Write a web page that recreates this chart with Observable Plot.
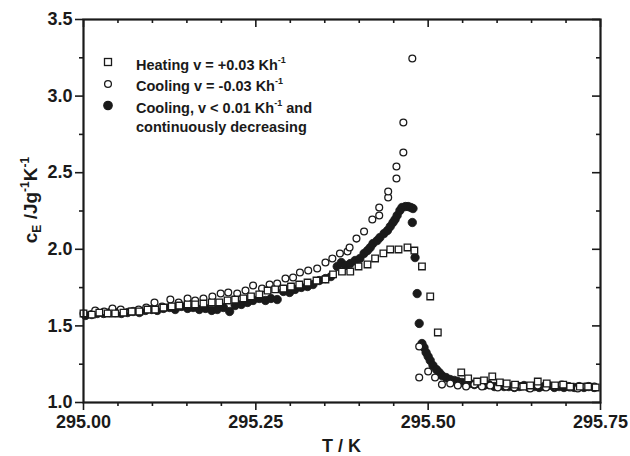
<!DOCTYPE html>
<html><head><meta charset="utf-8">
<script src="https://cdn.jsdelivr.net/npm/d3@7"></script>
<script src="https://cdn.jsdelivr.net/npm/@observablehq/plot@0.6"></script>
<style>
body{margin:0;background:#fff;}
#chart{position:relative;width:630px;height:456px;}
</style>
</head><body><div id="chart"></div>
<script>
// Heating v = +0.03 Kh^-1 (open squares)
const heatT = [295.000,295.012,295.023,295.035,295.046,295.058,295.070,295.081,295.093,295.104,295.116,295.128,295.139,295.151,295.162,295.174,295.186,295.197,295.209,295.220,295.232,295.243,295.255,295.267,295.278,295.290,295.301,295.313,295.325,295.338,295.351,295.362,295.375,295.387,295.399,295.412,295.423,295.435,295.445,295.457,295.470,295.480,295.491,295.503,295.514,295.548,295.558,295.571,295.581,295.593,295.604,295.614,295.626,295.638,295.648,295.659,295.672,295.684,295.696,295.706,295.720,295.732,295.743];
const heatC = [1.581,1.574,1.587,1.581,1.581,1.587,1.594,1.594,1.607,1.607,1.620,1.627,1.633,1.640,1.640,1.646,1.653,1.653,1.666,1.672,1.679,1.692,1.705,1.731,1.738,1.744,1.757,1.770,1.783,1.796,1.803,1.836,1.855,1.855,1.888,1.901,1.940,1.973,1.999,1.999,2.012,1.992,1.888,1.692,1.457,1.196,1.157,1.137,1.144,1.170,1.131,1.124,1.117,1.104,1.111,1.137,1.124,1.111,1.117,1.104,1.104,1.104,1.098];

// Cooling v = -0.03 Kh^-1 (open circles)
const coolT = [295.000,295.017,295.030,295.042,295.054,295.068,295.080,295.091,295.103,295.114,295.126,295.138,295.151,295.162,295.174,295.187,295.199,295.210,295.223,295.235,295.246,295.259,295.270,295.281,295.293,295.304,295.314,295.326,295.339,295.351,295.361,295.372,295.383,295.386,295.396,295.407,295.419,295.429,295.429,295.442,295.442,295.454,295.454,295.464,295.464,295.477,295.487,295.487,295.500,295.510,295.520,295.532,295.543,295.555,295.567,295.578,295.590,295.601,295.613,295.625,295.636,295.648,295.659,295.671,295.683,295.694,295.706,295.717,295.729,295.741];
const coolC = [1.581,1.601,1.594,1.614,1.607,1.594,1.607,1.620,1.653,1.627,1.672,1.653,1.679,1.666,1.679,1.692,1.711,1.718,1.711,1.731,1.764,1.744,1.770,1.777,1.809,1.816,1.849,1.862,1.875,1.914,1.940,1.973,1.986,2.012,2.070,2.116,2.195,2.221,2.273,2.338,2.377,2.462,2.540,2.632,2.828,3.245,1.366,1.163,1.202,1.163,1.117,1.124,1.111,1.104,1.117,1.104,1.111,1.098,1.104,1.098,1.104,1.091,1.111,1.098,1.104,1.117,1.098,1.091,1.104,1.104];

// Cooling, v < 0.01 Kh^-1 and continuously decreasing (filled circles)
const slowT = [295.003,295.012,295.020,295.029,295.038,295.046,295.055,295.064,295.072,295.081,295.090,295.099,295.107,295.116,295.125,295.133,295.142,295.151,295.159,295.168,295.177,295.186,295.194,295.203,295.212,295.220,295.229,295.238,295.246,295.255,295.264,295.272,295.281,295.290,295.299,295.307,295.316,295.325,295.333,295.342,295.351,295.359,295.368,295.374,295.380,295.387,295.394,295.401,295.407,295.412,295.416,295.420,295.426,295.430,295.436,295.441,295.445,295.449,295.452,295.455,295.459,295.462,295.467,295.471,295.475,295.478,295.477,295.481,295.484,295.487,295.491,295.494,295.497,295.500,295.503,295.507,295.512,295.516,295.520,295.526,295.532,295.538,295.543,295.549,295.555,295.561,295.567,295.574,295.581,295.588,295.596,295.603,295.610,295.617,295.625,295.632,295.639,295.646,295.654,295.661,295.668,295.675,295.683,295.690,295.697,295.704,295.712,295.719,295.726,295.733,295.741];
const slowC = [1.568,1.574,1.581,1.581,1.587,1.587,1.581,1.587,1.594,1.587,1.601,1.607,1.601,1.614,1.620,1.607,1.627,1.614,1.620,1.607,1.614,1.601,1.607,1.620,1.594,1.633,1.640,1.653,1.666,1.679,1.666,1.679,1.672,1.725,1.718,1.738,1.751,1.757,1.770,1.796,1.809,1.822,1.888,1.914,1.894,1.907,1.927,1.940,1.973,1.992,2.012,2.038,2.057,2.077,2.103,2.123,2.149,2.175,2.195,2.221,2.253,2.273,2.279,2.279,2.273,2.266,2.175,1.946,1.711,1.516,1.385,1.359,1.326,1.300,1.274,1.242,1.215,1.196,1.176,1.163,1.150,1.144,1.137,1.131,1.131,1.124,1.117,1.124,1.111,1.117,1.104,1.111,1.104,1.104,1.098,1.104,1.111,1.098,1.104,1.098,1.104,1.111,1.098,1.104,1.098,1.104,1.098,1.104,1.098,1.104,1.098];

const xMajor = [295.00, 295.25, 295.50, 295.75];
const xMinor = [295.05,295.10,295.15,295.20,295.30,295.35,295.40,295.45,295.55,295.60,295.65,295.70];
const yMajor = [1.0, 1.5, 2.0, 2.5, 3.0, 3.5];
const yMinor = [1.25, 1.75, 2.25, 2.75, 3.25];

const legendItems = [
  {sym: "square", text: "Heating v = +0.03 Kh", sup: "-1", rest: ""},
  {sym: "open", text: "Cooling v = -0.03 Kh", sup: "-1", rest: ""},
  {sym: "filled", text: "Cooling, v < 0.01 Kh", sup: "-1", rest: " and"}
];
const legendLine4 = "continuously decreasing";

const W = 630, H = 456, mL = 83, mR = 30, mT = 19, mB = 54;
const innerW = W - mL - mR, innerH = H - mT - mB;
const FONT = "'Liberation Sans', Arial, Helvetica, sans-serif";
const INK = "#1a1a1a";

const heat = heatT.map((t, i) => ({t, c: heatC[i]}));
const cool = coolT.map((t, i) => ({t, c: coolC[i]}));
const slow = slowT.map((t, i) => ({t, c: slowC[i]}));

const plot = Plot.plot({
  width: W, height: H,
  marginLeft: mL, marginRight: mR, marginTop: mT, marginBottom: mB,
  x: {domain: [295, 295.75]},
  y: {domain: [1, 3.5]},
  style: {fontFamily: FONT, color: INK, background: "white", overflow: "visible"},
  marks: [
    Plot.dot(slow, {x: "t", y: "c", r: 4.2, fill: INK, stroke: INK, strokeWidth: 0.8}),
    Plot.dot(cool, {x: "t", y: "c", r: 3.4, fill: "white", stroke: INK, strokeWidth: 1.3}),
    Plot.dot(heat, {x: "t", y: "c", r: 3.7, symbol: "square", fill: "white", stroke: INK, strokeWidth: 1.3}),
    Plot.axisX(xMajor, {tickSize: 8, tickPadding: 5, tickFormat: d => d.toFixed(2), label: null, fontSize: 18, fontWeight: "bold", strokeWidth: 1.6, stroke: INK, fill: INK}),
    Plot.axisX(xMinor, {tickSize: 4, text: null, label: null, strokeWidth: 1.6, stroke: INK}),
    Plot.axisY(yMajor, {tickSize: 8, tickPadding: 3, tickFormat: d => d.toFixed(1), label: null, fontSize: 18, fontWeight: "bold", strokeWidth: 1.6, stroke: INK, fill: INK}),
    Plot.axisY(yMinor, {tickSize: 4, text: null, label: null, strokeWidth: 1.6, stroke: INK}),
    Plot.tickX(xMajor, {x: d => d, insetBottom: innerH - 8, stroke: INK, strokeWidth: 1.6}),
    Plot.tickX(xMinor, {x: d => d, insetBottom: innerH - 4, stroke: INK, strokeWidth: 1.6}),
    Plot.tickY(yMajor, {y: d => d, insetLeft: innerW - 8, stroke: INK, strokeWidth: 1.6}),
    Plot.tickY(yMinor, {y: d => d, insetLeft: innerW - 4, stroke: INK, strokeWidth: 1.6}),
    Plot.frame({stroke: INK, strokeWidth: 2.2})
  ]
});
document.getElementById("chart").appendChild(plot);

const svg = d3.select(plot);
// Axis titles
svg.append("text").attr("x", mL + innerW / 2).attr("y", 452)
  .attr("text-anchor", "middle").attr("font-family", FONT).attr("font-weight", "bold")
  .attr("font-size", 18).attr("fill", INK).text("T / K");

const yt = svg.append("text").attr("transform", "translate(37,200) rotate(-90)")
  .attr("text-anchor", "middle").attr("font-family", FONT).attr("font-weight", "bold")
  .attr("font-size", 19).attr("fill", INK);
yt.append("tspan").text("c");
yt.append("tspan").attr("font-size", 12).attr("dy", 4).text("E");
yt.append("tspan").attr("dy", -4).text(" /Jg");
yt.append("tspan").attr("font-size", 12).attr("dy", -8).text("-1");
yt.append("tspan").attr("dy", 8).text("K");
yt.append("tspan").attr("font-size", 12).attr("dy", -8).text("-1");

// Legend
const lg = svg.append("g").attr("font-family", FONT).attr("font-weight", "bold")
  .attr("font-size", 14.5).attr("fill", INK).attr("text-anchor", "start");
const baseY = [69.5, 91, 112.5];
legendItems.forEach((it, i) => {
  const cy = baseY[i] - 7;
  if (it.sym === "square") {
    lg.append("rect").attr("x", 104.5).attr("y", cy - 4).attr("width", 7).attr("height", 7)
      .attr("fill", "white").attr("stroke", INK).attr("stroke-width", 1.3);
  } else {
    lg.append("circle").attr("cx", 108).attr("cy", cy).attr("r", it.sym === "open" ? 3.4 : 4.2)
      .attr("fill", it.sym === "open" ? "white" : INK).attr("stroke", INK).attr("stroke-width", 1.3);
  }
  const t = lg.append("text").attr("x", 136).attr("y", baseY[i]);
  t.append("tspan").text(it.text);
  t.append("tspan").attr("font-size", 9).attr("dy", -7).text(it.sup);
  if (it.rest) t.append("tspan").attr("dy", 7).text(it.rest);
});
lg.append("text").attr("x", 136).attr("y", 132).text(legendLine4);
</script>
</body></html>
